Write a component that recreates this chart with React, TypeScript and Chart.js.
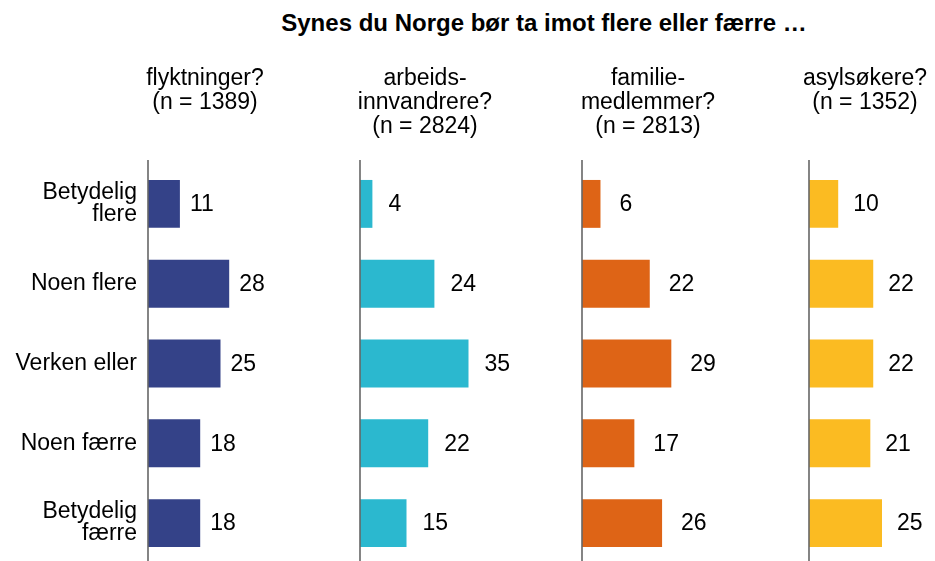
import React, { useEffect, useRef } from 'react';
import { Chart, registerables } from 'chart.js';

Chart.register(...registerables);

// ---- data ----
const categories: (string | string[])[] = [
  ['Betydelig', 'flere'],
  'Noen flere',
  'Verken eller',
  'Noen færre',
  ['Betydelig', 'færre'],
];
const flyktninger = [11, 28, 25, 18, 18];
const arbeidsinnvandrere = [4, 24, 35, 22, 15];
const familiemedlemmer = [6, 22, 29, 17, 26];
const asylsokere = [10, 22, 22, 21, 25];

const mainTitle = 'Synes du Norge bør ta imot flere eller færre …';
const headerFlyktninger = ['flyktninger?', '(n = 1389)'];
const headerArbeids = ['arbeids-', 'innvandrere?', '(n = 2824)'];
const headerFamilie = ['familie-', 'medlemmer?', '(n = 2813)'];
const headerAsyl = ['asylsøkere?', '(n = 1352)'];

// ---- styling / layout ----
const FONT = '"Liberation Sans", Arial, Helvetica, sans-serif';
const TEXT_SIZE = 23;
const CANVAS_H = 563;
const AREA_TOP = 164;
const LEFT_SLACK = 10; // plot area extends this far left of the zero line
const CATEGORY_RIGHT = 137; // right edge of category labels

type Panel = {
  values: number[];
  header: string[];
  color: string;
  canvasLeft: number;
  canvasWidth: number;
  axisX: number; // pixel of the zero line
  centerX: number; // centre of panel header
  unitPx: number; // pixels per percentage point
  labelGap: number;
  showCategories: boolean;
};

const panels: Panel[] = [
  { values: flyktninger, header: headerFlyktninger, color: '#344288', canvasLeft: 0, canvasWidth: 280, axisX: 148, centerX: 205, unitPx: 2.9, labelGap: 10, showCategories: true },
  { values: arbeidsinnvandrere, header: headerArbeids, color: '#2BB8CF', canvasLeft: 330, canvasWidth: 188, axisX: 360, centerX: 425, unitPx: 3.1, labelGap: 16, showCategories: false },
  { values: familiemedlemmer, header: headerFamilie, color: '#DE6416', canvasLeft: 552, canvasWidth: 185, axisX: 582, centerX: 648, unitPx: 3.08, labelGap: 19, showCategories: false },
  { values: asylsokere, header: headerAsyl, color: '#FBBB22', canvasLeft: 779, canvasWidth: 156, axisX: 809, centerX: 865, unitPx: 2.92, labelGap: 15, showCategories: false },
];

const decorPlugin = {
  id: 'panelDecor',
  afterDatasetsDraw(chart: any, _args: any, opts: any) {
    const { ctx, chartArea } = chart;
    const zeroX = chart.scales.x.getPixelForValue(0);
    ctx.save();
    // axis line at zero
    ctx.strokeStyle = '#666666';
    ctx.lineWidth = 1.6;
    ctx.beginPath();
    ctx.moveTo(zeroX, chartArea.top - 4);
    ctx.lineTo(zeroX, chartArea.bottom);
    ctx.stroke();
    // value labels
    ctx.font = `${TEXT_SIZE}px ${FONT}`;
    ctx.fillStyle = '#000000';
    ctx.textAlign = 'left';
    ctx.textBaseline = 'middle';
    const meta = chart.getDatasetMeta(0);
    const data = chart.data.datasets[0].data;
    meta.data.forEach((bar: any, i: number) => {
      ctx.fillText(String(data[i]), bar.x + (opts.gap || 12), bar.y + 1);
    });
    ctx.restore();
  },
};

function PanelChart({ panel }: { panel: Panel }) {
  const ref = useRef<HTMLCanvasElement | null>(null);
  useEffect(() => {
    if (!ref.current) return;
    const areaLeft = panel.axisX - LEFT_SLACK;
    const half = panel.centerX - areaLeft;
    const areaRight = panel.centerX + half;
    const yWidth = areaLeft - panel.canvasLeft;
    const padRight = Math.max(0, panel.canvasLeft + panel.canvasWidth - areaRight);
    const xMin = -LEFT_SLACK / panel.unitPx;
    const xMax = (areaRight - panel.axisX) / panel.unitPx;
    const chart = new Chart(ref.current, {
      type: 'bar',
      data: {
        labels: categories,
        datasets: [
          {
            data: panel.values,
            backgroundColor: panel.color,
            borderWidth: 0,
            barPercentage: 0.6,
            categoryPercentage: 1.0,
          },
        ],
      },
      options: {
        indexAxis: 'y',
        responsive: false,
        animation: false,
        events: [],
        layout: { padding: { left: 0, right: padRight, top: 0, bottom: 0 } },
        plugins: {
          legend: { display: false },
          tooltip: { enabled: false },
          title: { display: false },
          panelDecor: { gap: panel.labelGap },
        } as any,
        scales: {
          x: {
            position: 'top',
            min: xMin,
            max: xMax,
            grid: { display: false },
            border: { display: false },
            ticks: { display: false },
            title: {
              display: true,
              text: panel.header,
              color: '#000000',
              font: { family: FONT, size: TEXT_SIZE, lineHeight: 1.04 },
              padding: { top: 67, bottom: 0 },
            },
            afterFit: (scale: any) => {
              scale.height = AREA_TOP;
              scale.paddingLeft = 0;
              scale.paddingRight = 0;
            },
          },
          y: {
            position: 'left',
            grid: { display: false, drawTicks: false },
            border: { display: false },
            ticks: {
              display: panel.showCategories,
              color: '#000000',
              padding: Math.max(0, areaLeft - CATEGORY_RIGHT),
              font: { family: FONT, size: TEXT_SIZE, lineHeight: 0.96 },
            },
            afterFit: (scale: any) => {
              scale.width = yWidth;
              scale.paddingTop = 0;
              scale.paddingBottom = 0;
            },
          },
        },
      },
      plugins: [decorPlugin],
    } as any);
    return () => chart.destroy();
  }, [panel]);
  return (
    <canvas
      ref={ref}
      width={panel.canvasWidth}
      height={CANVAS_H}
      style={{ position: 'absolute', left: panel.canvasLeft, top: 0, width: panel.canvasWidth, height: CANVAS_H }}
    />
  );
}

export default function App() {
  return (
    <div
      style={{
        position: 'fixed',
        left: 0,
        top: 0,
        width: 935,
        height: 561,
        overflow: 'hidden',
        background: '#ffffff',
      }}
    >
      <div
        style={{
          position: 'absolute',
          left: 544,
          top: 11,
          transform: 'translateX(-50%)',
          whiteSpace: 'nowrap',
          fontFamily: FONT,
          fontWeight: 'bold',
          fontSize: 24,
          lineHeight: '24px',
          color: '#000000',
        }}
      >
        {mainTitle}
      </div>
      {panels.map((p, i) => (
        <PanelChart key={i} panel={p} />
      ))}
    </div>
  );
}
